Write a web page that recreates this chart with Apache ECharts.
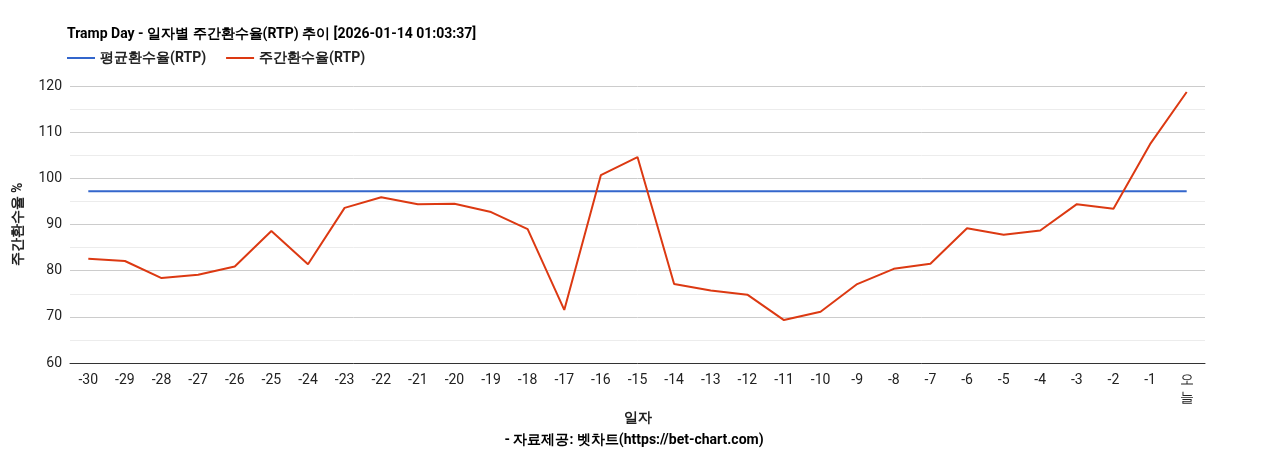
<!DOCTYPE html>
<html><head><meta charset="utf-8">
<script src="https://cdn.jsdelivr.net/npm/echarts@6/dist/echarts.min.js"></script>
<style>body{margin:0;background:#fff}#c{width:1268px;height:450px}</style>
</head><body><div id="c"></div>
<script>
var days = ['-30','-29','-28','-27','-26','-25','-24','-23','-22','-21','-20','-19','-18','-17','-16','-15','-14','-13','-12','-11','-10','-9','-8','-7','-6','-5','-4','-3','-2','-1','오\n늘'];
var weekly = [82.6,82.1,78.4,79.1,80.9,88.6,81.4,93.6,95.9,94.4,94.5,92.7,89.0,71.5,100.7,104.6,77.1,75.7,74.8,69.3,71.1,77.1,80.4,81.5,89.2,87.8,88.7,94.4,93.4,107.4,118.7];
var avgRtp = 97.2;
var avg = days.map(function () { return avgRtp; });

var chart = echarts.init(document.getElementById('c'));
var font = 'Roboto, Arial, sans-serif';
chart.setOption({
  textStyle: { fontFamily: font },
  title: [
    { text: 'Tramp Day - 일자별 주간환수율(RTP) 추이 [2026-01-14 01:03:37]', left: 62, top: 22,
      textStyle: { fontSize: 14, fontWeight: 'bold', color: '#000' } },
    { text: '- 자료제공: 벳차트(https://bet-chart.com)', left: 'center', top: 428,
      textStyle: { fontSize: 14, fontWeight: 'bold', color: '#000' } }
  ],
  legend: {
    left: 62, top: 46, itemWidth: 28, itemHeight: 2, itemGap: 20, icon: 'rect',
    textStyle: { fontSize: 14, fontWeight: 'bold', color: '#222' },
    data: ['평균환수율(RTP)', '주간환수율(RTP)']
  },
  grid: { left: 70, right: 63, top: 86, bottom: 87 },
  xAxis: {
    type: 'category', data: days, boundaryGap: true,
    name: '일자', nameLocation: 'middle', nameGap: 45,
    nameTextStyle: { fontSize: 14, fontWeight: 'bold', color: '#222' },
    axisLine: { lineStyle: { color: '#333' } }, axisTick: { show: false },
    axisLabel: { fontSize: 14, color: '#222', interval: 0, lineHeight: 18 }
  },
  yAxis: {
    type: 'value', min: 60, max: 120, interval: 10,
    name: '주간환수율 %', nameLocation: 'middle', nameGap: 45,
    nameTextStyle: { fontSize: 14, fontWeight: 'bold', color: '#222' },
    axisLabel: { fontSize: 14, color: '#222' },
    splitLine: { lineStyle: { color: '#ccc' } },
    minorTick: { show: false, splitNumber: 2 },
    minorSplitLine: { show: true, lineStyle: { color: '#ececec' } }
  },
  series: [
    { name: '평균환수율(RTP)', type: 'line', data: avg, symbol: 'none',
      lineStyle: { color: '#3366cc', width: 2 }, itemStyle: { color: '#3366cc' } },
    { name: '주간환수율(RTP)', type: 'line', data: weekly, symbol: 'none',
      lineStyle: { color: '#dc3912', width: 2 }, itemStyle: { color: '#dc3912' } }
  ]
});
</script></body></html>
